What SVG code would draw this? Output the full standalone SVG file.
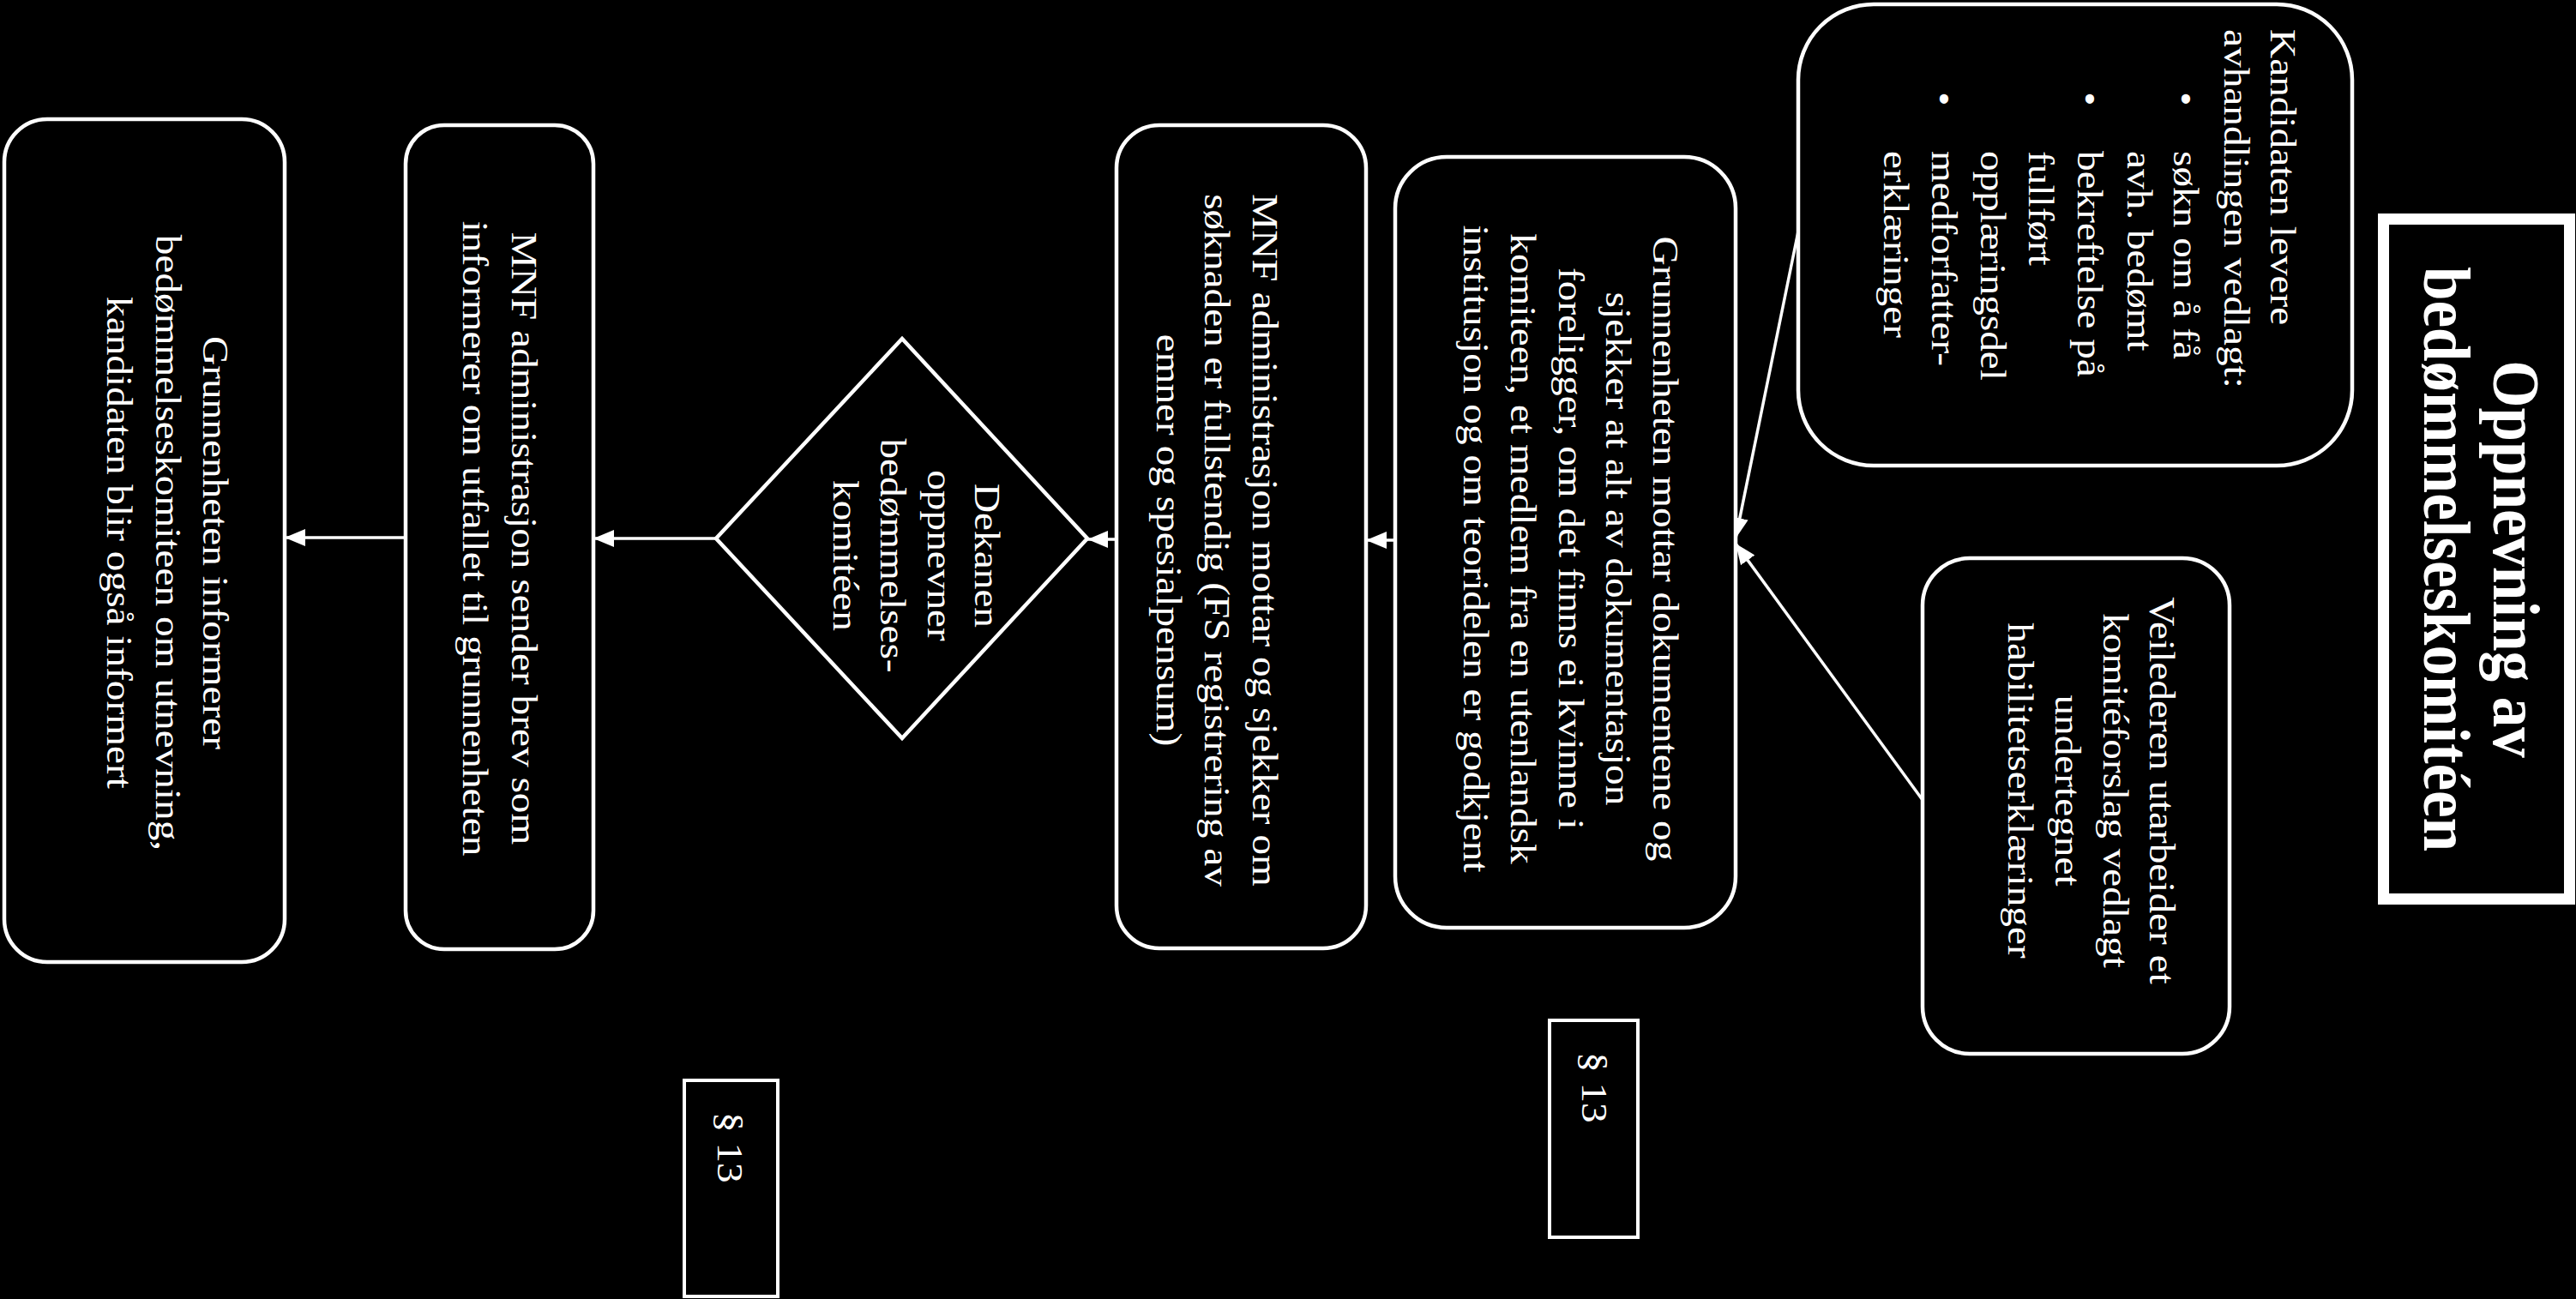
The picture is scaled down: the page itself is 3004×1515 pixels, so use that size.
<svg xmlns="http://www.w3.org/2000/svg" width="3004" height="1515" viewBox="0 0 3004 1515">
<style>
.t{font-family:"Liberation Serif","Times New Roman",serif;font-size:43px;fill:#fff}
.c{text-anchor:middle}
.ttl{font-family:"Liberation Serif","Times New Roman",serif;font-size:78px;font-weight:bold;fill:#fff;text-anchor:middle}
.box{fill:#000;stroke:#fff;stroke-width:4.5}
.conn{stroke:#fff;stroke-width:3.5;fill:none}
</style>
<defs>
<marker id="ah" viewBox="0 0 24 20" refX="24" refY="10" markerWidth="24" markerHeight="20" markerUnits="userSpaceOnUse" orient="auto">
<path d="M0,0 L24,10 L0,20 z" fill="#fff"/>
</marker>
</defs>
<rect x="0" y="0" width="3004" height="1515" fill="#000"/>

<g id="title">
<rect x="2779.5" y="255.5" width="217" height="793" fill="#000" stroke="#fff" stroke-width="13"/>
<text class="ttl" transform="translate(2908 652) rotate(90) scale(0.91 1)">Oppnevning av</text>
<text class="ttl" transform="translate(2827 652) rotate(90) scale(0.91 1)">bedømmelseskomitéen</text>
</g>

<g id="connectors">
<line class="conn" x1="2097" y1="270" x2="2024" y2="628" marker-end="url(#ah)"/>
<line class="conn" x1="2242" y1="933" x2="2024" y2="634" marker-end="url(#ah)"/>
<line class="conn" x1="1627" y1="630" x2="1593" y2="630" marker-end="url(#ah)"/>
<line class="conn" x1="1302" y1="629" x2="1268" y2="629" marker-end="url(#ah)"/>
<line class="conn" x1="835" y1="628" x2="692" y2="628" marker-end="url(#ah)"/>
<line class="conn" x1="473" y1="627" x2="332" y2="627" marker-end="url(#ah)"/>
</g>

<g id="kandidaten">
<rect class="box" x="2097" y="5" width="646" height="538" rx="88" ry="88"/>
<text class="t" transform="translate(2648 34) rotate(90) scale(1.1 1)">Kandidaten levere</text>
<text class="t" transform="translate(2594 34) rotate(90) scale(1.1 1)">avhandlingen vedlagt:</text>
<text class="t" transform="translate(2535 107) rotate(90) scale(1.1 1)">•</text>
<text class="t" transform="translate(2535 176) rotate(90) scale(1.1 1)">søkn om å få</text>
<text class="t" transform="translate(2481 176) rotate(90) scale(1.1 1)">avh. bedømt</text>
<text class="t" transform="translate(2423 107) rotate(90) scale(1.1 1)">•</text>
<text class="t" transform="translate(2423 176) rotate(90) scale(1.1 1)">bekreftelse på</text>
<text class="t" transform="translate(2366 176) rotate(90) scale(1.1 1)">fullført</text>
<text class="t" transform="translate(2310 176) rotate(90) scale(1.1 1)">opplæringsdel</text>
<text class="t" transform="translate(2253 107) rotate(90) scale(1.1 1)">•</text>
<text class="t" transform="translate(2253 176) rotate(90) scale(1.1 1)">medforfatter-</text>
<text class="t" transform="translate(2197 176) rotate(90) scale(1.1 1)">erklæringer</text>
</g>

<g id="veilederen">
<rect class="box" x="2242" y="651" width="358" height="578" rx="55" ry="55"/>
<text class="t c" transform="translate(2507 922) rotate(90) scale(1.1 1)">Veilederen utarbeider et</text>
<text class="t c" transform="translate(2453 922) rotate(90) scale(1.1 1)">komitéforslag vedlagt</text>
<text class="t c" transform="translate(2397 922) rotate(90) scale(1.1 1)">undertegnet</text>
<text class="t c" transform="translate(2342 922) rotate(90) scale(1.1 1)">habilitetserklæringer</text>
</g>

<g id="grunnenheten-mottar">
<rect class="box" x="1627" y="183" width="397" height="899" rx="60" ry="60"/>
<text class="t c" transform="translate(1928 640) rotate(90) scale(1.1 1)">Grunnenheten mottar dokumentene og</text>
<text class="t c" transform="translate(1873 640) rotate(90) scale(1.1 1)">sjekker at alt av dokumentasjon</text>
<text class="t c" transform="translate(1818 640) rotate(90) scale(1.1 1)">foreligger, om det finns ei kvinne i</text>
<text class="t c" transform="translate(1762 640) rotate(90) scale(1.1 1)">komiteen, et medlem fra en utenlandsk</text>
<text class="t c" transform="translate(1707 640) rotate(90) scale(1.1 1)">institusjon og om teoridelen er godkjent</text>
</g>

<g id="paragraf-1">
<rect x="1807" y="1190" width="103" height="253" fill="#000" stroke="#fff" stroke-width="4"/>
<text class="t" transform="translate(1845 1227) rotate(90) scale(1.1 1)">§ 13</text>
</g>

<g id="mnf-mottar">
<rect class="box" x="1302" y="146" width="291" height="960" rx="50" ry="50"/>
<text class="t c" transform="translate(1461 630) rotate(90) scale(1.1 1)">MNF administrasjon mottar og sjekker om</text>
<text class="t c" transform="translate(1405 630) rotate(90) scale(1.1 1)">søknaden er fullstendig (FS registrering av</text>
<text class="t c" transform="translate(1349 630) rotate(90) scale(1.1 1)">emner og spesialpensum)</text>
</g>

<g id="dekanen">
<polygon points="1052,395 1268,628 1052,861 835,628" fill="#000" stroke="#fff" stroke-width="4.5"/>
<text class="t c" transform="translate(1137 648) rotate(90) scale(1.1 1)">Dekanen</text>
<text class="t c" transform="translate(1082 648) rotate(90) scale(1.1 1)">oppnevner</text>
<text class="t c" transform="translate(1027 648) rotate(90) scale(1.1 1)">bedømmelses-</text>
<text class="t c" transform="translate(972 648) rotate(90) scale(1.1 1)">komitéen</text>
</g>

<g id="paragraf-2">
<rect x="798" y="1260" width="109" height="252" fill="#000" stroke="#fff" stroke-width="4"/>
<text class="t" transform="translate(837 1297) rotate(90) scale(1.1 1)">§ 13</text>
</g>

<g id="mnf-sender">
<rect class="box" x="473" y="146" width="219" height="961" rx="45" ry="45"/>
<text class="t c" transform="translate(597 628) rotate(90) scale(1.1 1)">MNF administrasjon sender brev som</text>
<text class="t c" transform="translate(540 628) rotate(90) scale(1.1 1)">informerer om utfallet til grunnenheten</text>
</g>

<g id="grunnenheten-informerer">
<rect class="box" x="5" y="139" width="327" height="983" rx="50" ry="50"/>
<text class="t c" transform="translate(237 633) rotate(90) scale(1.1 1)">Grunnenheten informerer</text>
<text class="t c" transform="translate(182 633) rotate(90) scale(1.1 1)">bedømmelseskomiteen om utnevning,</text>
<text class="t c" transform="translate(125 633) rotate(90) scale(1.1 1)">kandidaten blir også informert</text>
</g>
</svg>
